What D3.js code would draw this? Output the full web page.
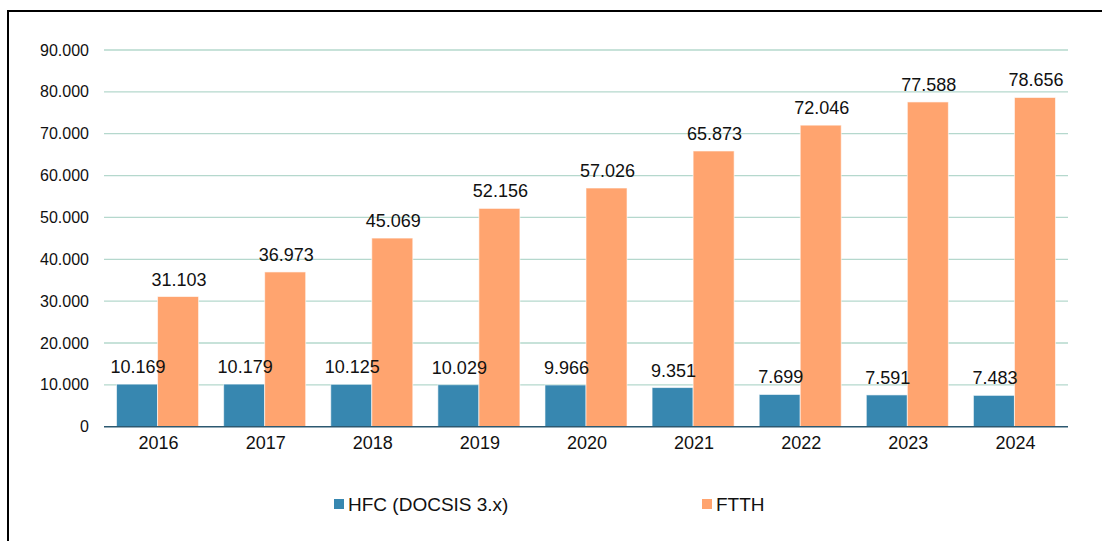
<!DOCTYPE html>
<html><head><meta charset="utf-8">
<script src="https://cdn.jsdelivr.net/npm/d3@7"></script>
<style>body{margin:0;background:#fff;}svg{display:block;font-family:"Liberation Sans",Arial,sans-serif;}</style>
</head><body>
<svg id="c" width="1102" height="541"></svg>
<script>
const years = ["2016","2017","2018","2019","2020","2021","2022","2023","2024"];
const seriesNames = ["HFC (DOCSIS 3.x)","FTTH"];
const hfc = [10169,10179,10125,10029,9966,9351,7699,7591,7483];
const ftth = [31103,36973,45069,52156,57026,65873,72046,77588,78656];
const yTicks = [0,10000,20000,30000,40000,50000,60000,70000,80000,90000];
const colors = ["#3787b0","#ffa46f"];

(function(){
const svg = d3.select("#c");
const loc = d3.formatLocale({decimal:",",thousands:".",grouping:[3],currency:["",""]});
const fmt = loc.format(",");

svg.append("rect").attr("x",8).attr("y",11).attr("width",1300).attr("height",700)
  .attr("fill","none").attr("stroke","#000").attr("stroke-width",2);

const pL=104,pR=1068,pT=50,pB=426.7;
const x0 = d3.scaleBand().domain(years).range([pL,pR]).paddingInner(0.234).paddingOuter(0.117);
const x1 = d3.scaleBand().domain(seriesNames).range([0,x0.bandwidth()]).padding(0);
const y = d3.scaleLinear().domain([0,90000]).range([pB,pT]);

const g = svg.append("g");
g.selectAll("line.grid").data(yTicks.filter(d=>d>0)).enter().append("line")
  .attr("x1",pL).attr("x2",pR).attr("y1",d=>y(d)).attr("y2",d=>y(d))
  .attr("stroke","#b5d8cd").attr("stroke-width",1.3);

g.selectAll("text.yt").data(yTicks).enter().append("text")
  .attr("x",89).attr("y",d=>y(d)).attr("dy","0.35em").attr("text-anchor","end")
  .attr("font-size",16).attr("fill","#111").text(d=>fmt(d));

const data = [hfc, ftth];
data.forEach((vals,si)=>{
  const gs = g.append("g");
  gs.selectAll("rect").data(vals).enter().append("rect")
    .attr("x",(d,i)=>x0(years[i])+x1(seriesNames[si]))
    .attr("y",d=>y(d)).attr("width",x1.bandwidth()).attr("height",d=>y(0)-y(d))
    .attr("fill",colors[si]).attr("stroke","#fff").attr("stroke-opacity",0.6).attr("stroke-width",1);
});
data.forEach((vals,si)=>{
  g.append("g").selectAll("text").data(vals).enter().append("text")
    .attr("x",(d,i)=>x0(years[i])+x1(seriesNames[si])+x1.bandwidth()/2+1)
    .attr("y",d=>y(d)-11).attr("text-anchor","middle")
    .attr("font-size",18).attr("fill","#111").text(d=>fmt(d));
});

g.append("line").attr("x1",pL).attr("x2",pR).attr("y1",y(0)).attr("y2",y(0))
  .attr("stroke","#2c5870").attr("stroke-width",1.5);

g.selectAll("text.xt").data(years).enter().append("text")
  .attr("x",d=>x0(d)+x0.bandwidth()/2+1).attr("y",449).attr("text-anchor","middle")
  .attr("font-size",18).attr("fill","#111").text(d=>d);

const legX=[334,702];
seriesNames.forEach((n,i)=>{
  svg.append("rect").attr("x",legX[i]).attr("y",499).attr("width",10).attr("height",10).attr("fill",colors[i]);
  svg.append("text").attr("x",legX[i]+14).attr("y",511).attr("font-size",19).attr("fill","#111").text(n);
});
})();
</script>
</body></html>
